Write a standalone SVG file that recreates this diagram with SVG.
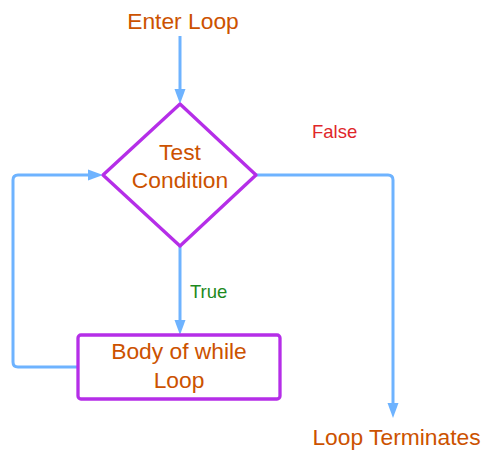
<svg xmlns="http://www.w3.org/2000/svg" width="488" height="466" viewBox="0 0 488 466">
<defs>
<marker id="arr" markerUnits="userSpaceOnUse" markerWidth="16" markerHeight="14" refX="0" refY="6" orient="auto" viewBox="0 0 16 12">
<path d="M0,0.5 L15,6 L0,11.5 z" fill="#6eb3ff"/>
</marker>
<style>
.lbl{font-family:"Liberation Sans",Arial,sans-serif;font-size:22.8px;fill:#cc5200;text-anchor:middle}
.small{font-family:"Liberation Sans",Arial,sans-serif;font-size:18.5px}
.shape{fill:#ffffff;stroke:#b52ee8;stroke-width:3.3;stroke-linejoin:round}
.conn{fill:none;stroke:#6eb3ff;stroke-width:3;stroke-linejoin:round}
</style>
</defs>
<rect width="488" height="466" fill="#ffffff"/>
<g id="connectors">
<path class="conn" d="M180,36 V89" marker-end="url(#arr)"/>
<path class="conn" d="M180,246 V320" marker-end="url(#arr)"/>
<path class="conn" d="M78,367 H18 Q13,367 13,362 V180 Q13,175 18,175 H88" marker-end="url(#arr)"/>
<path class="conn" d="M256,175 H388 Q393,175 393,180 V403" marker-end="url(#arr)"/>
<text class="small" x="190" y="298" fill="#1e8a1e">True</text>
<text class="small" x="312" y="138" fill="#e0262a">False</text>
</g>
<g id="enter">
<text class="lbl" x="183" y="29">Enter Loop</text>
</g>
<g id="test">
<path class="shape" d="M180,104 L256,175 L180,246 L103,175 z"/>
<text class="lbl" x="180" y="160">Test</text>
<text class="lbl" x="180" y="188">Condition</text>
</g>
<g id="body">
<rect class="shape" x="78" y="335" width="202" height="64" rx="3"/>
<text class="lbl" x="179" y="359">Body of while</text>
<text class="lbl" x="179" y="388">Loop</text>
</g>
<g id="terminates">
<text class="lbl" x="396.5" y="445">Loop Terminates</text>
</g>
</svg>
